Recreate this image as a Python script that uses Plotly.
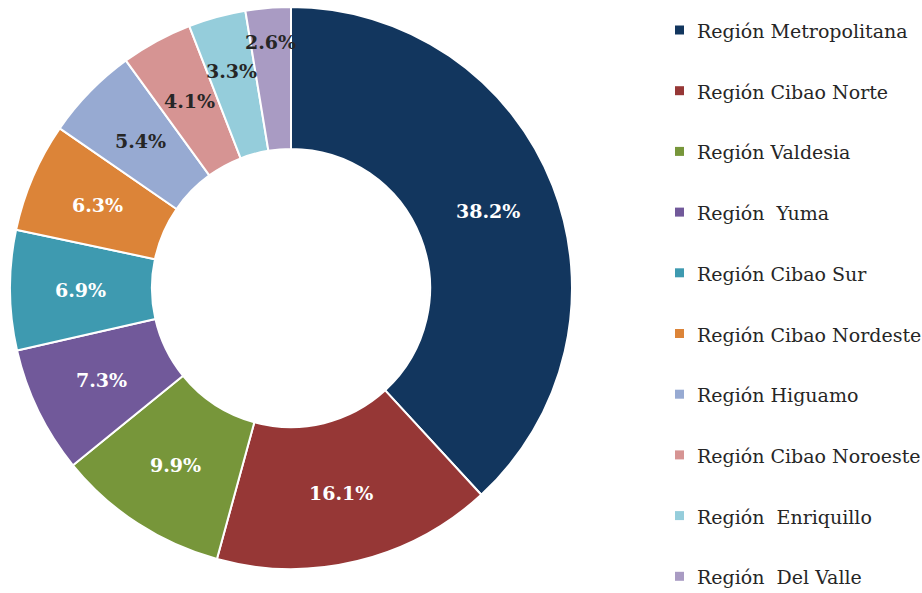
import math
import plotly.graph_objects as go

regions = ["Región Metropolitana", "Región Cibao Norte", "Región Valdesia", "Región  Yuma",
           "Región Cibao Sur", "Región Cibao Nordeste", "Región Higuamo", "Región Cibao Noroeste",
           "Región  Enriquillo", "Región  Del Valle"]
shares = [38.2, 16.1, 9.9, 7.3, 6.9, 6.3, 5.4, 4.1, 3.3, 2.6]
labels_txt = ["38.2%", "16.1%", "9.9%", "7.3%", "6.9%", "6.3%", "5.4%", "4.1%", "3.3%", "2.6%"]
colors = ["#12365E", "#963736", "#77963A", "#71599A", "#3E9AB0", "#DC8438",
          "#97AAD2", "#D69493", "#95CDDB", "#A99BC3"]
text_colors = ["white"] * 6 + ["#262626"] * 4
# radial placement of the value labels (pixels from the centre), layout only
label_radius = [211, 211, 211, 211, 211, 211, 211, 213, 225, 247]

FONT = "DejaVu Serif"
W, H = 922, 593
CX, CY, R = 291, 288, 281

fig = go.Figure()
fig.add_trace(go.Pie(
    labels=regions, values=shares, textinfo="none",
    sort=False, direction="clockwise", rotation=0, hole=0.495,
    marker=dict(colors=colors, line=dict(color="white", width=2)),
    domain=dict(x=[(CX - R) / W, (CX + R) / W], y=[1 - (CY + R) / H, 1 - (CY - R) / H]),
    showlegend=False, hoverinfo="label+percent",
))

# value labels
total = sum(shares)
cum = 0.0
for v, t, tc, rr in zip(shares, labels_txt, text_colors, label_radius):
    mid = (cum + v / 2) / total * 2 * math.pi
    cum += v
    px = CX + rr * math.sin(mid)
    py = CY - rr * math.cos(mid)
    fig.add_annotation(x=px / W, y=1 - py / H, xref="paper", yref="paper",
                       text="<b>" + t + "</b>", showarrow=False,
                       xanchor="center", yanchor="middle",
                       font=dict(family=FONT, size=19, color=tc))

# legend drawn as annotations + squares
top = 31
step = 60.7
for i, (name, col) in enumerate(zip(regions, colors)):
    yc = top + i * step
    yp = 1 - yc / H
    fig.add_shape(type="rect", xref="paper", yref="paper",
                  x0=675 / W, x1=684 / W, y0=yp - 3.5 / H, y1=yp + 5.5 / H,
                  fillcolor=col, line=dict(width=0))
    fig.add_annotation(x=695 / W, y=yp, xref="paper", yref="paper", text=name,
                       showarrow=False, xanchor="left", yanchor="middle",
                       font=dict(family=FONT, size=19, color="#262626"))

fig.update_layout(
    width=W, height=H, margin=dict(l=0, r=0, t=0, b=0),
    paper_bgcolor="white", plot_bgcolor="white",
    font=dict(family=FONT),
)
fig.write_html("out.html", config={"displayModeBar": False},
               post_script="document.body.style.margin='0';")
